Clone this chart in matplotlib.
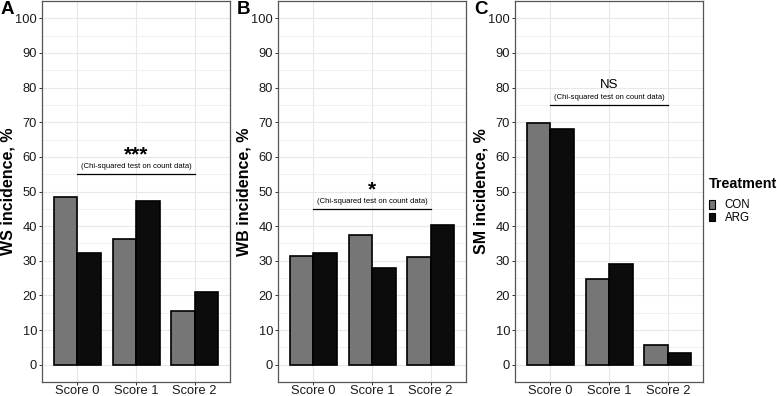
import matplotlib
matplotlib.use("Agg")
import matplotlib.pyplot as plt
from matplotlib.patches import Patch
import numpy as np

plt.rcParams['font.family'] = ['Liberation Sans', 'DejaVu Sans']

categories = ["Score 0", "Score 1", "Score 2"]
treatments = ["CON", "ARG"]
ws_con = [48.3, 36.3, 15.4]
ws_arg = [32.1, 47.3, 20.9]
wb_con = [31.4, 37.5, 31.1]
wb_arg = [32.1, 27.9, 40.4]
sm_con = [69.8, 24.8, 5.8]
sm_arg = [68.1, 29.1, 3.5]
panel_letters = ["A", "B", "C"]
ylabels = ["WS incidence, %", "WB incidence, %", "SM incidence, %"]
sig_labels = ["***", "*", "NS"]
sig_y = [55, 45, 75]
test_note = "(Chi-squared test on count data)"

colors = {"CON": "#767676", "ARG": "#0c0c0c"}

W, H = 777, 396
fig = plt.figure(figsize=(W / 100, H / 100), dpi=100)

panels = [(ws_con, ws_arg), (wb_con, wb_arg), (sm_con, sm_arg)]
lefts = [42, 278, 515]
width_px = 188
top_px, bot_px = 1, 382

x = np.arange(len(categories))
bw = 0.4
for i, ((con, arg), lp) in enumerate(zip(panels, lefts)):
    ax = fig.add_axes([lp / W, (H - bot_px) / H, width_px / W, (bot_px - top_px) / H])
    ax.set_xlim(-0.6, 2.6)
    ax.set_ylim(-5, 105)
    ax.set_yticks(np.arange(0, 101, 10))
    ax.set_yticks(np.arange(5, 101, 10), minor=True)
    ax.set_xticks(x)
    ax.set_xticklabels(categories)
    ax.grid(True, which='major', color='#e8e8e8', linewidth=0.8)
    ax.grid(True, which='minor', axis='y', color='#efefef', linewidth=0.6)
    ax.set_axisbelow(True)
    ax.tick_params(axis='both', which='major', length=2.5, width=0.7, color='#333333',
                   labelsize=9.3, labelcolor='#1a1a1a')
    ax.tick_params(axis='x', length=2.2, pad=0)
    ax.tick_params(axis='y', pad=1)
    ax.tick_params(axis='y', which='minor', length=0)
    for s in ax.spines.values():
        s.set_color('#555555')
        s.set_linewidth(0.9)
    ax.bar(x - bw / 2, con, width=bw, color=colors["CON"], edgecolor='black', linewidth=1.2, zorder=3)
    ax.bar(x + bw / 2, arg, width=bw, color=colors["ARG"], edgecolor='black', linewidth=1.2, zorder=3)
    ax.set_ylabel(ylabels[i], fontsize=11.5, fontweight='bold', va='center')
    ax.yaxis.set_label_coords(-34 / width_px, 0.5)
    # significance
    y0 = sig_y[i]
    ax.plot([x[0], x[-1]], [y0, y0], color='black', linewidth=0.9, zorder=4)
    ax.text(x[1], y0 + 2.2, test_note, ha='center', va='center', fontsize=5.5)
    if sig_labels[i] == "NS":
        ax.text(x[1], y0 + 4.9, sig_labels[i], ha='center', va='baseline', fontsize=9.5)
    else:
        ax.text(x[1], y0 + 3.9, sig_labels[i], ha='center', va='baseline', fontsize=15, fontweight='bold')
    fig.text((lp - 41) / W, 1 - 14 / H, panel_letters[i], fontsize=13.5, fontweight='bold',
             ha='left', va='baseline')

handles = [Patch(facecolor=colors[t], edgecolor='black', linewidth=0.8) for t in treatments]
leg = fig.legend(handles, treatments, loc='upper left', bbox_to_anchor=(709 / W, 1 - 177 / H),
                 frameon=False, fontsize=8.3, title="Treatment",
                 title_fontproperties={'weight': 'bold', 'size': 10.3},
                 handlelength=0.55, handleheight=0.75, labelspacing=0.08, handletextpad=0.8,
                 borderpad=0, borderaxespad=0, alignment='left')
leg._legend_box.sep = 6

fig.savefig("out.png", dpi=100)
